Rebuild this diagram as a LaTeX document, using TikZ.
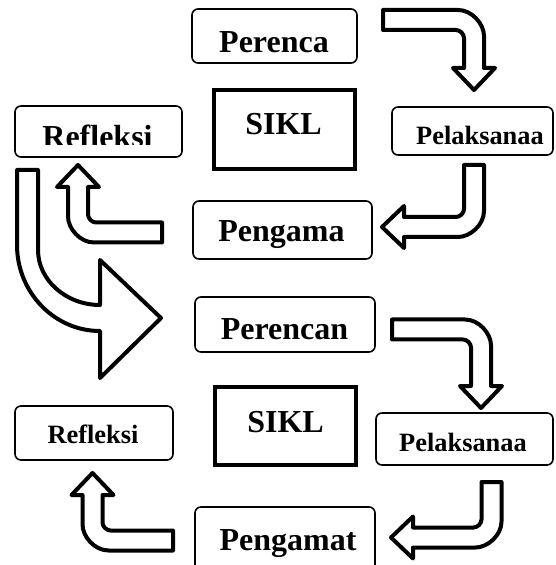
\documentclass[tikz,border=0pt]{standalone}
\usepackage{fontspec}
\setmainfont{Liberation Serif}
\usepackage{tikz}
\tikzset{
    stage/.style={draw=black, line width=0.8pt, rounded corners=3pt, inner sep=0pt, outer sep=0pt},
    cycle box/.style={draw=black, line width=2pt, inner sep=0pt, outer sep=0pt},
    bigtext/.style={font=\fontsize{16}{18}\selectfont\bfseries, anchor=base, inner sep=0pt},
    smalltext/.style={font=\fontsize{13.2}{15}\selectfont\bfseries, anchor=base, inner sep=0pt},
    blockarrow/.style={draw=black, fill=white, line width=2pt, line join=round}
}
% bent block arrow: tail at origin, #2 = first leg, #3 = second leg (turns right)
\newcommand{\bentarrow}[3]{%
  \begin{scope}[#1]
    \draw[blockarrow] (0,-10) -- ({#2-16},-10)
      .. controls ({#2-2},-10) and ({#2+10},4) .. ({#2+10},16)
      -- ({#2+10},{#3-22}) -- ({#2+21},{#3-22}) -- (#2,#3)
      -- ({#2-21},{#3-22}) -- ({#2-10},{#3-22}) -- ({#2-10},18)
      .. controls ({#2-10},14) and ({#2-14},10) .. ({#2-18},10)
      -- (0,10) -- cycle;
  \end{scope}}

\begin{document}
\begin{tikzpicture}[x=0.5pt,y=-0.5pt]
\useasboundingbox (0,0) rectangle (555,565);
\clip (0,0) rectangle (555,565);

% first cycle
\node[stage, minimum width=82.5pt, minimum height=27pt] (plan1) at (274.5,36) {};
\node[bigtext] (plan1 text) at (274,53) {Perenca};
\node[cycle box, minimum width=70.5pt, minimum height=39.5pt] (cycle1) at (284.5,129.5) {};
\node[bigtext] (cycle1 text) at (283.5,135) {SIKL};
\node[stage, minimum width=80.5pt, minimum height=24pt] (act1) at (472.5,131) {};
\node[smalltext] (act1 text) at (480,145) {Pelaksanaa};
\node[stage, minimum width=89.5pt, minimum height=29pt] (obs1) at (282.5,230) {};
\node[bigtext] (obs1 text) at (281.5,242) {Pengama};
\node[stage, minimum width=83.5pt, minimum height=25.5pt] (refl1) at (98.5,131.5) {};
\begin{scope}
  \clip (15,106) rectangle (182,145);
  \node[bigtext] (refl1 text) at (97.5,148) {Refleksi};
\end{scope}

\bentarrow{shift={(383,20)}}{91}{70}
\bentarrow{shift={(474,165)}, rotate=-90}{62}{92}
\bentarrow{shift={(162,232.5)}, rotate=180}{84}{67.5}

% big arrow to the second cycle
\draw[blockarrow] (17,170) -- (38,170) -- (38,250)
  .. controls (38,280) and (66,305) .. (100,305) -- (100,260) -- (161,318)
  -- (100,378) -- (100,331) .. controls (54,331) and (17,292) .. (17,245) -- cycle;

% second cycle
\node[stage, minimum width=90pt, minimum height=27.5pt] (plan2) at (285,324.5) {};
\node[bigtext] (plan2 text) at (284.5,340) {Perencan};
\node[cycle box, minimum width=70.5pt, minimum height=39pt] (cycle2) at (285.5,426) {};
\node[bigtext] (cycle2 text) at (285.5,432) {SIKL};
\node[stage, minimum width=88.5pt, minimum height=26pt] (act2) at (464.5,439) {};
\node[smalltext] (act2 text) at (463,451) {Pelaksanaa};
\node[stage, minimum width=79pt, minimum height=27pt] (refl2) at (94,433) {};
\node[smalltext] (refl2 text) at (93,443) {Refleksi};
\node[stage, minimum width=90pt, minimum height=34pt] (obs2) at (285,541) {};
\node[bigtext] (obs2 text) at (288,550) {Pengamat};

\bentarrow{shift={(392,329.5)}}{89}{78.5}
\bentarrow{shift={(491.5,482)}, rotate=-90}{55.5}{100.5}
\bentarrow{shift={(173,540.5)}, rotate=180}{80.5}{67.5}
\end{tikzpicture}
\end{document}
